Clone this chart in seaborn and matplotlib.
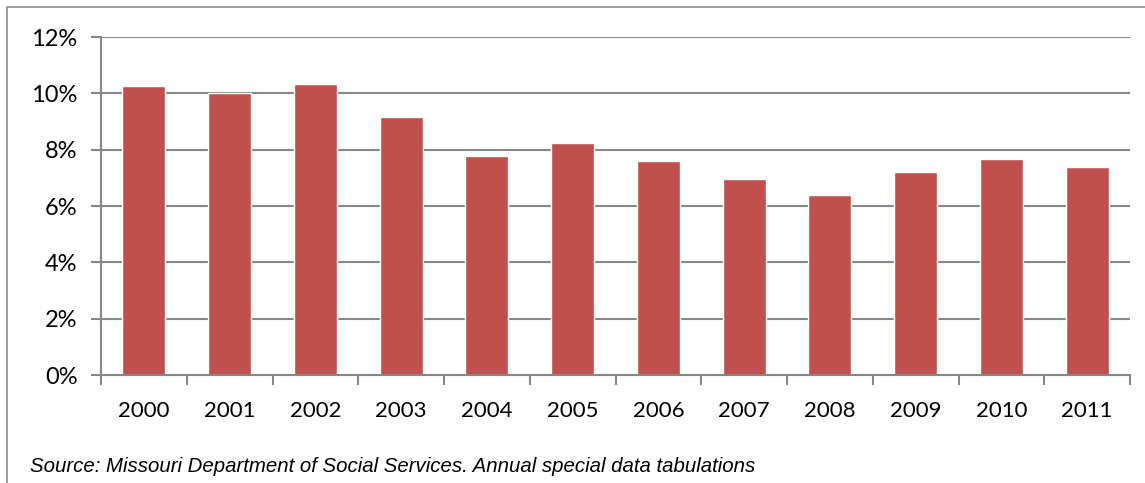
import matplotlib
matplotlib.use("Agg")
import matplotlib.pyplot as plt
import seaborn as sns
import pandas as pd
from matplotlib.patches import Rectangle
from matplotlib.ticker import FuncFormatter, MultipleLocator, FixedLocator

years = ["2000", "2001", "2002", "2003", "2004", "2005",
         "2006", "2007", "2008", "2009", "2010", "2011"]
values = [10.27, 10.02, 10.34, 9.17, 7.77, 8.22,
          7.59, 6.97, 6.39, 7.22, 7.67, 7.37]
source_text = "Source: Missouri Department of Social Services. Annual special data tabulations"

sns.set_theme(style="white")
plt.rcParams['font.family'] = ['Lato', 'DejaVu Sans']

df = pd.DataFrame({"year": years, "value": values})

W, H = 1145, 483
fig = plt.figure(figsize=(W / 100, H / 100), dpi=100)
ax = fig.add_axes([101 / W, 1 - 375 / H, (1130 - 101) / W, (375 - 37) / H])

sns.barplot(data=df, x="year", y="value", color="#C0504D", saturation=1,
            width=0.5, ax=ax, zorder=3)

gray = "#878787"
ax.set_ylim(0, 12)
ax.set_xlim(-0.5, len(years) - 0.5)
ax.yaxis.set_major_locator(MultipleLocator(2))
ax.yaxis.set_major_formatter(FuncFormatter(lambda v, p: f"{v:.0f}%"))
ax.grid(axis="y", color=gray, linewidth=1.5, zorder=0)
ax.set_axisbelow(True)
for s in ["top", "right"]:
    ax.spines[s].set_visible(False)
for s in ["left", "bottom"]:
    ax.spines[s].set_color(gray)
    ax.spines[s].set_linewidth(1.5)
    ax.spines[s].set_zorder(4)

ax.xaxis.set_minor_locator(FixedLocator([i - 0.5 for i in range(len(years) + 1)]))
ax.tick_params(axis="x", which="major", length=0, pad=19, labelsize=16, colors="black")
ax.tick_params(axis="x", which="minor", length=7, width=1.5, color=gray, direction="out")
ax.tick_params(axis="y", which="major", length=7, width=1.5, color=gray, direction="out",
               pad=10, labelsize=17, labelcolor="black")
ax.tick_params(axis="y", left=True)
ax.tick_params(axis="x", which="minor", bottom=True)
ax.set_xlabel("")
ax.set_ylabel("")

fig.text(30 / W, 1 - 467 / H, source_text, fontsize=14.7, style="italic",
         family=["Liberation Sans", "DejaVu Sans"], va="center", ha="left", color="black")

border = Rectangle((7 / W, -0.5), 2.0, 1.5 - 7 / H, transform=fig.transFigure,
                   fill=False, edgecolor="#8c8c8c", linewidth=1.2)
fig.patches.append(border)

fig.savefig("out.png", dpi=100)
